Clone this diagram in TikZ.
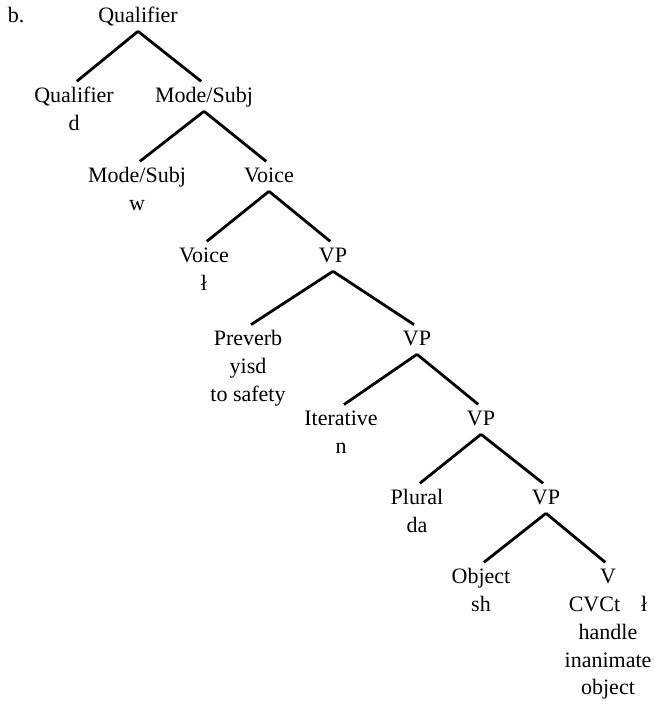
\documentclass[tikz,border=0pt]{standalone}
\usepackage{fontspec}
\setmainfont{Liberation Serif}
\begin{document}
\begin{tikzpicture}[x=1pt, y=-1pt,
  lbl/.style={anchor=north, yshift=19.4pt, inner sep=0pt, outer sep=0pt,
    align=center, font=\fontsize{22}{27.7}\selectfont},
  branch/.style={line width=2.8pt, shorten >=3.6pt}]
\useasboundingbox (0,0) rectangle (654,701);

% example label
\node[lbl, anchor=north west] (ex) at (8,23) {\strut b.};

% tree nodes (x = centre, y = first baseline)
\node[lbl] (q0)  at (138,23)  {\strut Qualifier};
\node[lbl] (q1)  at (74,103)  {\strut Qualifier\\\strut d};
\node[lbl] (m1)  at (204,103) {\strut Mode/Subj};
\node[lbl] (m2)  at (137,183) {\strut Mode/Subj\\\strut w};
\node[lbl] (v2)  at (269,183) {\strut Voice};
\node[lbl] (v3)  at (204,263) {\strut Voice\\\strut ł};
\node[lbl] (vp3) at (333,263) {\strut VP};
\node[lbl] (pv)  at (248,346) {\strut Preverb\\\strut yisd\\\strut to safety};
\node[lbl] (vp4) at (417,346) {\strut VP};
\node[lbl] (it)  at (341,426) {\strut Iterative\\\strut n};
\node[lbl] (vp5) at (481,426) {\strut VP};
\node[lbl] (pl)  at (417,505) {\strut Plural\\\strut da};
\node[lbl] (vp6) at (546,505) {\strut VP};
\node[lbl] (ob)  at (481,584) {\strut Object\\\strut sh};
\node[lbl] (vv)  at (608,584) {\strut V\\\strut CVCt\hspace{21pt}ł\\\strut handle\\\strut inanimate\\\strut object};

% branches
\foreach \p/\c in {q0/q1, q0/m1, m1/m2, m1/v2, v2/v3, v2/vp3, vp3/pv, vp3/vp4,
                   vp4/it, vp4/vp5, vp5/pl, vp5/vp6, vp6/ob, vp6/vv}
  \draw[branch] (\p.south) -- (\c.north);
\end{tikzpicture}
\end{document}
